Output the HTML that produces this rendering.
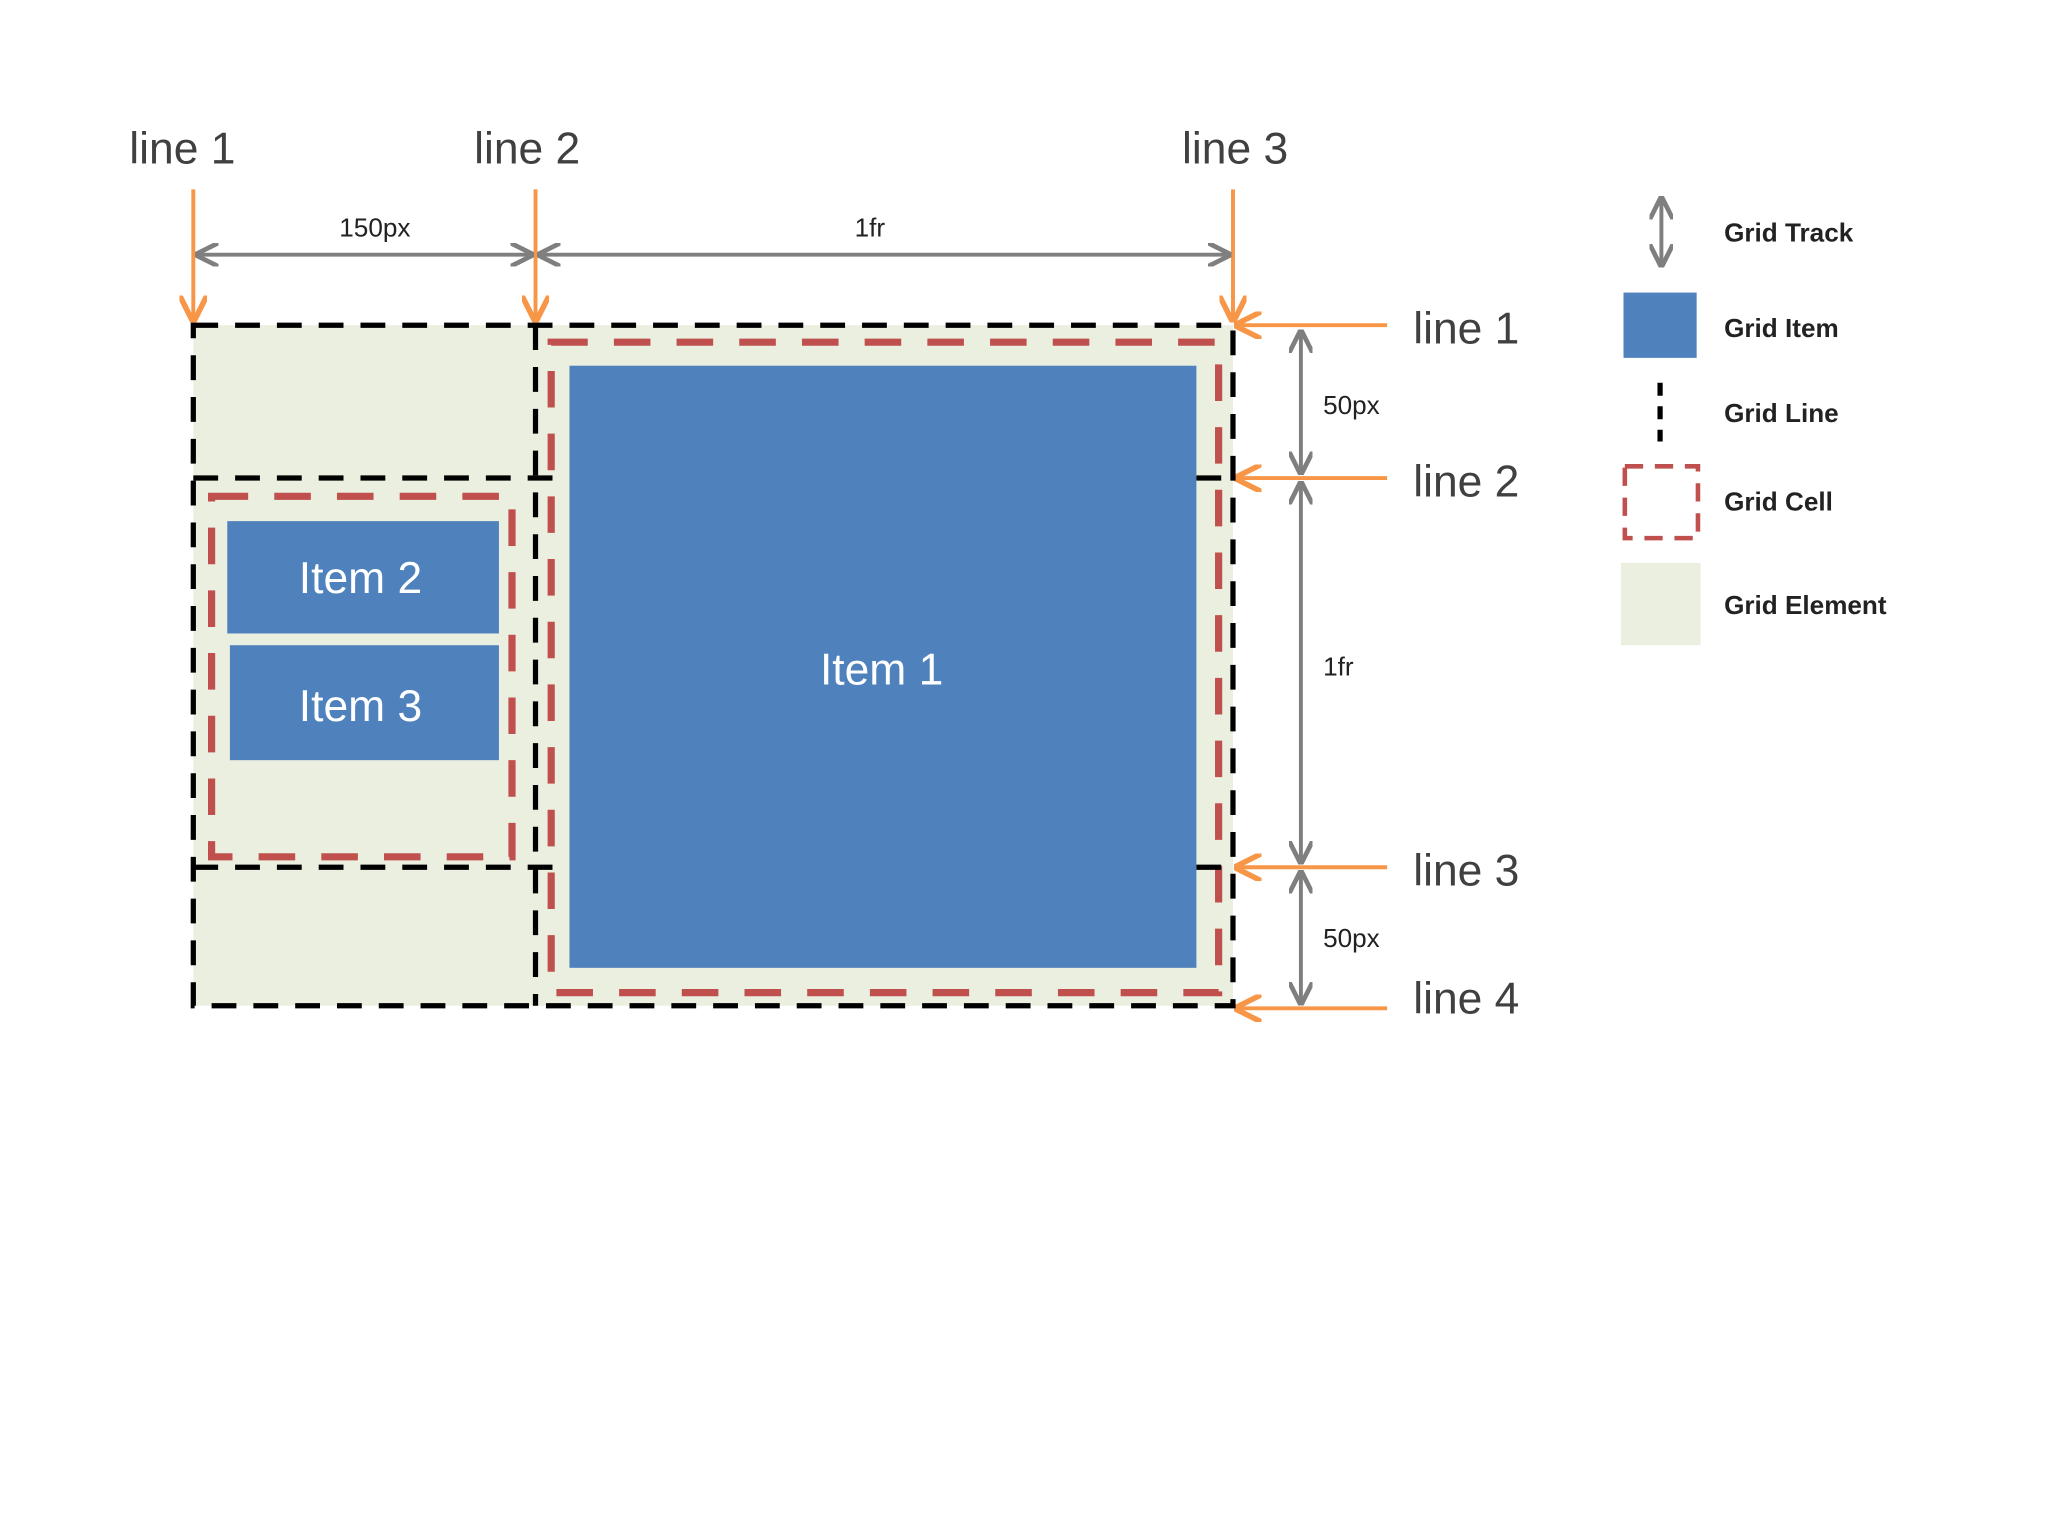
<!DOCTYPE html>
<html><head><meta charset="utf-8"><style>html,body{margin:0;padding:0;background:#fff}svg{display:block}</style></head>
<body>
<svg width="2048" height="1536" viewBox="0 0 1568 1176" xmlns="http://www.w3.org/2000/svg" font-family="Liberation Sans, sans-serif">
<defs>
<marker id="oa" viewBox="0 0 10 10" refX="9" refY="5" markerWidth="7" markerHeight="7" orient="auto-start-reverse"><path d="M0,0 L10,5 L0,10" fill="none" stroke="#f79646" stroke-width="2"/></marker>
<marker id="ga" viewBox="0 0 10 10" refX="9" refY="5" markerWidth="6" markerHeight="6" orient="auto-start-reverse"><path d="M0,0 L10,5 L0,10" fill="none" stroke="#7f7f7f" stroke-width="2"/></marker>
</defs>
<rect width="1568" height="1176" fill="#fff"/>
<!-- top labels -->
<g font-size="34" fill="#404040">
<text x="99" y="125">line 1</text><text x="363" y="125">line 2</text><text x="905" y="125">line 3</text>
<text x="1082" y="263">line 1</text><text x="1082" y="380">line 2</text><text x="1082" y="678">line 3</text><text x="1082" y="776">line 4</text>
</g>
<g stroke="#f79646" stroke-width="3" fill="none" marker-end="url(#oa)">
<line x1="148" y1="145" x2="148" y2="245"/><line x1="410" y1="145" x2="410" y2="245"/><line x1="944" y1="145" x2="944" y2="245"/>
<line x1="1062" y1="249" x2="947" y2="249"/><line x1="1062" y1="366" x2="947" y2="366"/><line x1="1062" y1="664" x2="947" y2="664"/><line x1="1062" y1="772" x2="947" y2="772"/>
</g>
<g stroke="#7f7f7f" stroke-width="3" fill="none" marker-start="url(#ga)" marker-end="url(#ga)">
<line x1="151" y1="195" x2="407" y2="195"/><line x1="413" y1="195" x2="941" y2="195"/>
<line x1="996" y1="254" x2="996" y2="362"/><line x1="996" y1="370" x2="996" y2="660"/><line x1="996" y1="668" x2="996" y2="768"/>
<line x1="1272" y1="152" x2="1272" y2="203"/>
</g>
<g font-size="20" fill="#222">
<text x="287" y="181" text-anchor="middle">150px</text><text x="666" y="181" text-anchor="middle">1fr</text>
<text x="1013" y="317">50px</text><text x="1013" y="517">1fr</text><text x="1013" y="725">50px</text>
</g>
<!-- grid -->
<rect x="148" y="249" width="796" height="521" fill="#ebefdf"/>
<g stroke="#c0504d" stroke-width="5.5" fill="none" stroke-dasharray="28 20">
<rect x="422" y="262" width="511" height="498"/>
<rect x="162" y="380" width="230" height="276"/>
</g>
<rect x="436" y="280" width="480" height="461" fill="#4f81bd"/>
<rect x="174" y="399" width="208" height="86" fill="#4f81bd"/>
<rect x="176" y="494" width="206" height="88" fill="#4f81bd"/>
<g fill="#fff" font-size="34" text-anchor="middle">
<text x="675" y="524">Item 1</text><text x="276" y="454">Item 2</text><text x="276" y="552">Item 3</text>
</g>
<g stroke="#000" stroke-width="4" fill="none" stroke-dasharray="19 13">
<rect x="148" y="249" width="796" height="521"/>
<line x1="148" y1="366" x2="435" y2="366"/><line x1="916" y1="366" x2="944" y2="366"/>
<line x1="148" y1="664" x2="435" y2="664"/><line x1="916" y1="664" x2="944" y2="664"/>
<line x1="410" y1="249" x2="410" y2="770"/>
</g>
<!-- legend -->
<rect x="1243" y="224" width="56" height="50" fill="#4f81bd"/>
<line x1="1271" y1="293" x2="1271" y2="338" stroke="#000" stroke-width="4" stroke-dasharray="10 8"/>
<rect x="1244" y="357" width="56" height="55" fill="none" stroke="#c0504d" stroke-width="3.5" stroke-dasharray="14 9"/>
<rect x="1241" y="431" width="61" height="63" fill="#ebefdf"/>
<g font-size="20" fill="#222" font-weight="bold">
<text x="1320" y="185">Grid Track</text><text x="1320" y="258">Grid Item</text><text x="1320" y="323">Grid Line</text><text x="1320" y="391">Grid Cell</text><text x="1320" y="470">Grid Element</text>
</g>
</svg>
</body></html>
